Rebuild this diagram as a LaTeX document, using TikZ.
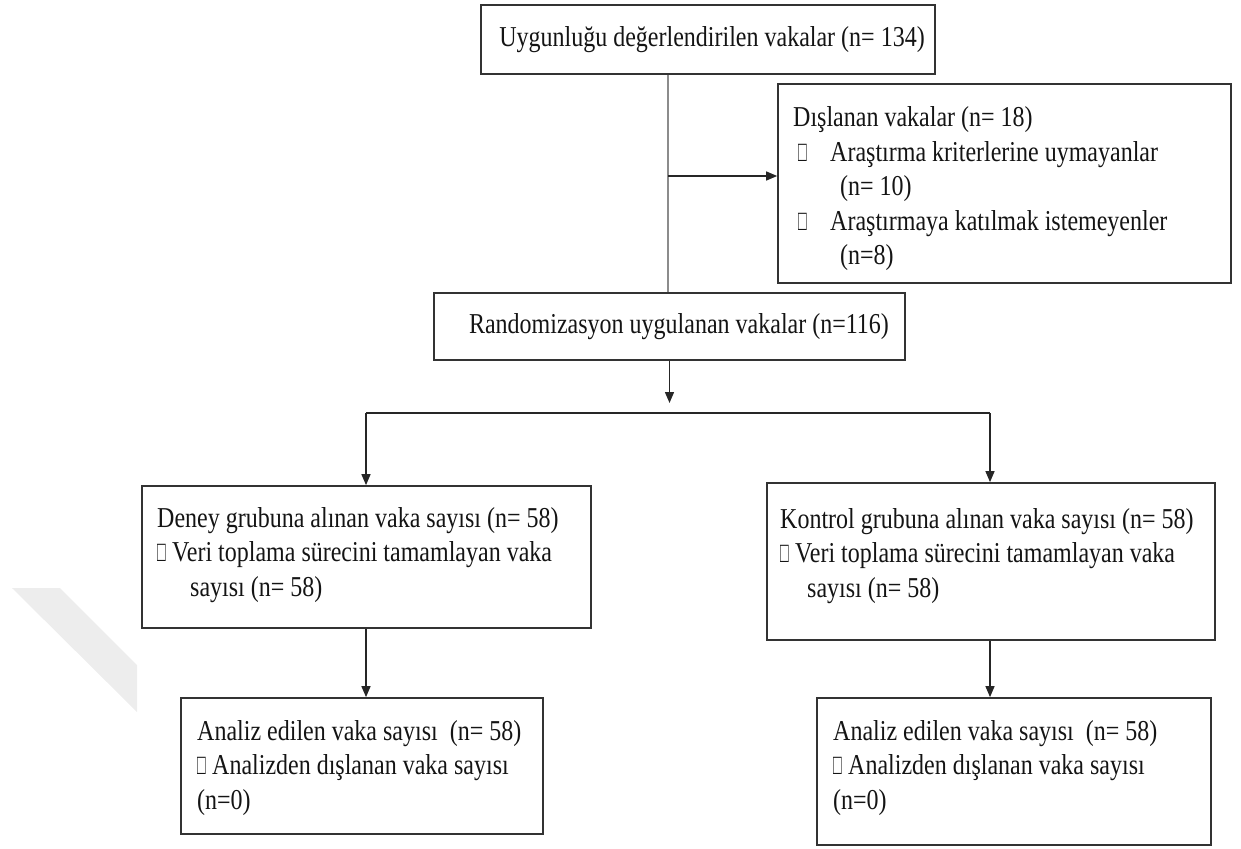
\documentclass[tikz,border=0pt]{standalone}
\usepackage{fontspec}
\setmainfont{Liberation Serif}
\usepackage{graphicx}
\usetikzlibrary{arrows.meta,calc}
\newcommand{\vtxt}[1]{\scalebox{1}[1.2]{\begin{tabular}{@{}l@{}}#1\end{tabular}}}
\newcommand{\bul}{\makebox[15pt][l]{\scalebox{0.6}[1]{□}}}
\begin{document}
\begin{tikzpicture}[x=1pt,y=-1pt,
  font=\fontsize{24pt}{28.75pt}\selectfont,
  box/.style={draw=black!80, line width=1.7pt, inner sep=0pt, rectangle},
  txt/.style={inner sep=0pt, anchor=west, text=black!92},
  conn/.style={draw=black!85, line width=1.4pt},
  arr/.style={conn, -{Triangle[length=11pt,width=9pt]}},
  thin/.style={draw=black!45, line width=1.4pt}]
\useasboundingbox (0,0) rectangle (1241,848);
% watermark fragment
\fill[black!7] (12,588) -- (60,588) -- (137,665) -- (137,712) -- cycle;
% boxes
\node[box, minimum width=454pt, minimum height=69pt] (top) at (708,39.5) {};
\node[box, minimum width=453pt, minimum height=199pt] (excl) at (1004.5,183.5) {};
\node[box, minimum width=471pt, minimum height=67pt] (rand) at (669.5,326.5) {};
\node[box, minimum width=449pt, minimum height=142pt] (deney) at (366.5,557) {};
\node[box, minimum width=448pt, minimum height=157pt] (kontrol) at (991,561.5) {};
\node[box, minimum width=362pt, minimum height=136pt] (anl) at (362,766) {};
\node[box, minimum width=394pt, minimum height=147pt] (anr) at (1014,771.5) {};
% texts
\node[txt, anchor=center] (ttop) at (712,40) {\vtxt{Uygunluğu değerlendirilen vakalar (n= 134)}};
\node[txt] (texcl) at (793,189) {\vtxt{Dışlanan vakalar (n= 18)\\
  \hspace*{5pt}\bul\hspace*{17pt}Araştırma kriterlerine uymayanlar\\
  \hspace*{47pt}(n= 10)\\
  \hspace*{5pt}\bul\hspace*{17pt}Araştırmaya katılmak istemeyenler\\
  \hspace*{47pt}(n=8)}};
\node[txt, anchor=center] (trand) at (679,327) {\vtxt{Randomizasyon uygulanan vakalar (n=116)}};
\node[txt] (tdeney) at (157,555) {\vtxt{Deney grubuna alınan vaka sayısı (n= 58)\\
  \bul Veri toplama sürecini tamamlayan vaka\\
  \hspace*{33pt}sayısı (n= 58)}};
\node[txt] (tkontrol) at (780,556) {\vtxt{Kontrol grubuna alınan vaka sayısı (n= 58)\\
  \bul Veri toplama sürecini tamamlayan vaka\\
  \hspace*{27pt}sayısı (n= 58)}};
\node[txt] (tanl) at (197,768) {\vtxt{Analiz edilen vaka sayısı\ \ (n= 58)\\
  \bul Analizden dışlanan vaka sayısı\\
  (n=0)}};
\node[txt] (tanr) at (833,768) {\vtxt{Analiz edilen vaka sayısı\ \ (n= 58)\\
  \bul Analizden dışlanan vaka sayısı\\
  (n=0)}};
% connectors
\coordinate (vx) at (668,0);
\coordinate (branch) at (668,176);
\coordinate (split) at (669.5,403);
\coordinate (lsplit) at (366,413);
\coordinate (rsplit) at (990,413);
\draw[thin] (vx |- top.south) -- (vx |- rand.north);
\draw[arr] (branch) -- (branch -| excl.west);
\draw[arr] (rand.south) -- (split);
\draw[conn] (lsplit) -- (rsplit);
\draw[arr] (lsplit) -- (lsplit |- deney.north);
\draw[arr] (rsplit) -- (rsplit |- kontrol.north);
\draw[arr] (lsplit |- deney.south) -- (lsplit |- anl.north);
\draw[arr] (rsplit |- kontrol.south) -- (rsplit |- anr.north);
\end{tikzpicture}
\end{document}
